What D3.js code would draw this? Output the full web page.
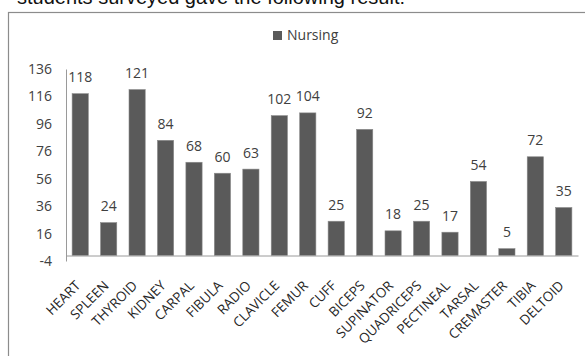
<!DOCTYPE html>
<html>
<head>
<meta charset="utf-8">
<script src="https://cdn.jsdelivr.net/npm/d3@7"></script>
<style>
  html, body { margin: 0; padding: 0; background: #fff; }
  svg { display: block; }
  text { font-family: "Open Sans", sans-serif; }
</style>
</head>
<body>
<svg id="chart" width="585" height="356"></svg>
<script>
// Survey results: count per term, single series "Nursing"
const categories = ["HEART", "SPLEEN", "THYROID", "KIDNEY", "CARPAL", "FIBULA", "RADIO",
  "CLAVICLE", "FEMUR", "CUFF", "BICEPS", "SUPINATOR", "QUADRICEPS", "PECTINEAL",
  "TARSAL", "CREMASTER", "TIBIA", "DELTOID"];
const nursing = [118, 24, 121, 84, 68, 60, 63, 102, 104, 25, 92, 18, 25, 17, 54, 5, 72, 35];
const yTicks = [-4, 16, 36, 56, 76, 96, 116, 136];
const seriesName = "Nursing";
const introText = "students surveyed gave the following result:";

const svg = d3.select("#chart");

// Sentence running above the chart box
svg.append("text")
  .attr("x", 405).attr("y", 4)
  .attr("text-anchor", "end")
  .style("font-family", "'Liberation Sans', Arial, sans-serif")
  .style("font-size", "20px")
  .attr("fill", "#111")
  .text(introText);

// Chart box outline
svg.append("rect")
  .attr("x", 8.5).attr("y", 12.5)
  .attr("width", 620).attr("height", 420)
  .attr("fill", "none")
  .attr("stroke", "#8c8c8c")
  .attr("stroke-width", 1.2);

const x = d3.scaleBand().domain(categories).range([66, 578]).paddingInner(0.43).paddingOuter(0.215);
const y = d3.scaleLinear().domain([-4, 136]).range([261, 69]);

// Y axis: labels only, plus the axis line
const yAxis = d3.axisLeft(y).tickValues(yTicks).tickFormat(d => String(d)).tickSize(0).tickPadding(14);
const gy = svg.append("g").attr("transform", "translate(66,0)").call(yAxis);
gy.select(".domain").attr("stroke", "#9a9a9a");
gy.selectAll("text")
  .style("font-size", "14px")
  .style("font-family", "'Open Sans', sans-serif")
  .attr("fill", "#404040");

// Bars
svg.append("g").selectAll("rect")
  .data(nursing)
  .join("rect")
  .attr("x", (d, i) => x(categories[i]))
  .attr("width", x.bandwidth())
  .attr("y", d => y(d))
  .attr("height", d => y(0) - y(d))
  .attr("fill", "#5a5a5a")
  .attr("stroke", "#8a8a8a")
  .attr("stroke-width", 0.6);

// Value labels
svg.append("g").selectAll("text")
  .data(nursing)
  .join("text")
  .attr("x", (d, i) => x(categories[i]) + x.bandwidth() / 2)
  .attr("y", d => y(d) - 11.5)
  .attr("text-anchor", "middle")
  .style("font-size", "14px")
  .attr("fill", "#404040")
  .text(d => d);

// Category axis at zero
const xAxis = d3.axisBottom(x).tickSize(0).tickPadding(0);
const gx = svg.append("g").attr("transform", `translate(0,${y(0)})`).call(xAxis);
gx.select(".domain").attr("stroke", "#9a9a9a");
gx.selectAll("text")
  .style("font-size", "13.5px")
  .style("font-family", "'Open Sans', sans-serif")
  .attr("fill", "#262626")
  .attr("text-anchor", "end")
  .attr("dy", null)
  .attr("y", 0)
  .attr("transform", "translate(1,31) rotate(-45)");

// Legend
const legend = svg.append("g").attr("transform", "translate(273,31)");
legend.append("rect").attr("width", 9).attr("height", 9).attr("fill", "#5a5a5a");
legend.append("text")
  .attr("x", 14).attr("y", 9)
  .style("font-size", "14px")
  .attr("fill", "#404040")
  .text(seriesName);
</script>
</body>
</html>
